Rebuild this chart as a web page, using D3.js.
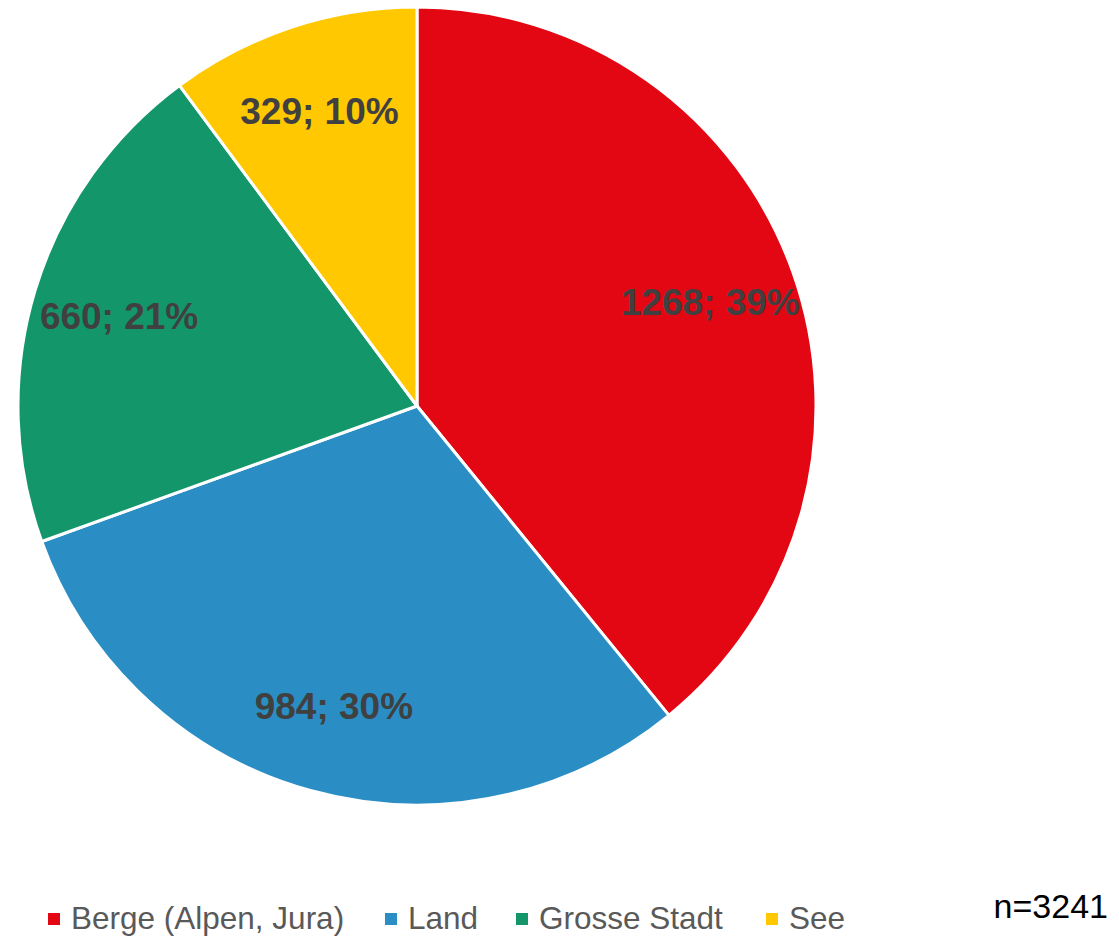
<!DOCTYPE html>
<html><head><meta charset="utf-8">
<script src="https://cdn.jsdelivr.net/npm/d3@7"></script>
<style>html,body{margin:0;padding:0;background:#fff;}</style>
</head><body>
<svg id="chart" width="1119" height="936"></svg>
<script>
const categories = ["Berge (Alpen, Jura)", "Land", "Grosse Stadt", "See"];
const values = [1268, 984, 660, 329];
const percents = ["39%", "30%", "21%", "10%"];
const colors = ["#E30613", "#2A8EC4", "#14966B", "#FFC800"];
const totalLabel = "n=3241";

const svg = d3.select("#chart");
const cx = 417, cy = 406, R = 399;
const font = "'Liberation Sans', Arial, sans-serif";

const pie = d3.pie().sort(null).value(d => d)(values);
const arc = d3.arc().innerRadius(0).outerRadius(R);
const labelArc = d3.arc().innerRadius(R * 0.78).outerRadius(R * 0.78);

const g = svg.append("g").attr("transform", `translate(${cx},${cy})`);
g.selectAll("path").data(pie).join("path")
  .attr("d", arc)
  .attr("fill", (d, i) => colors[i])
  .attr("stroke", "#fff")
  .attr("stroke-width", 3)
  .attr("stroke-linejoin", "round");

g.selectAll("text.lbl").data(pie).join("text")
  .attr("class", "lbl")
  .attr("transform", d => `translate(${labelArc.centroid(d)})`)
  .attr("text-anchor", "middle")
  .attr("dy", "0.36em")
  .attr("font-family", font)
  .attr("font-weight", "bold")
  .attr("font-size", 37)
  .attr("fill", "#404040")
  .text((d, i) => `${values[i]}; ${percents[i]}`);

// legend
const legendX = [48, 385, 516, 766];
const leg = svg.append("g");
categories.forEach((c, i) => {
  leg.append("rect").attr("x", legendX[i]).attr("y", 913).attr("width", 12).attr("height", 12).attr("fill", colors[i]);
  leg.append("text").attr("x", legendX[i] + 23).attr("y", 929)
    .attr("font-family", font).attr("font-size", 31.5).attr("fill", "#595959").text(c);
});

svg.append("text").attr("x", 1108).attr("y", 918).attr("text-anchor", "end")
  .attr("font-family", font).attr("font-size", 34).attr("fill", "#000").text(totalLabel);
</script>
</body></html>
